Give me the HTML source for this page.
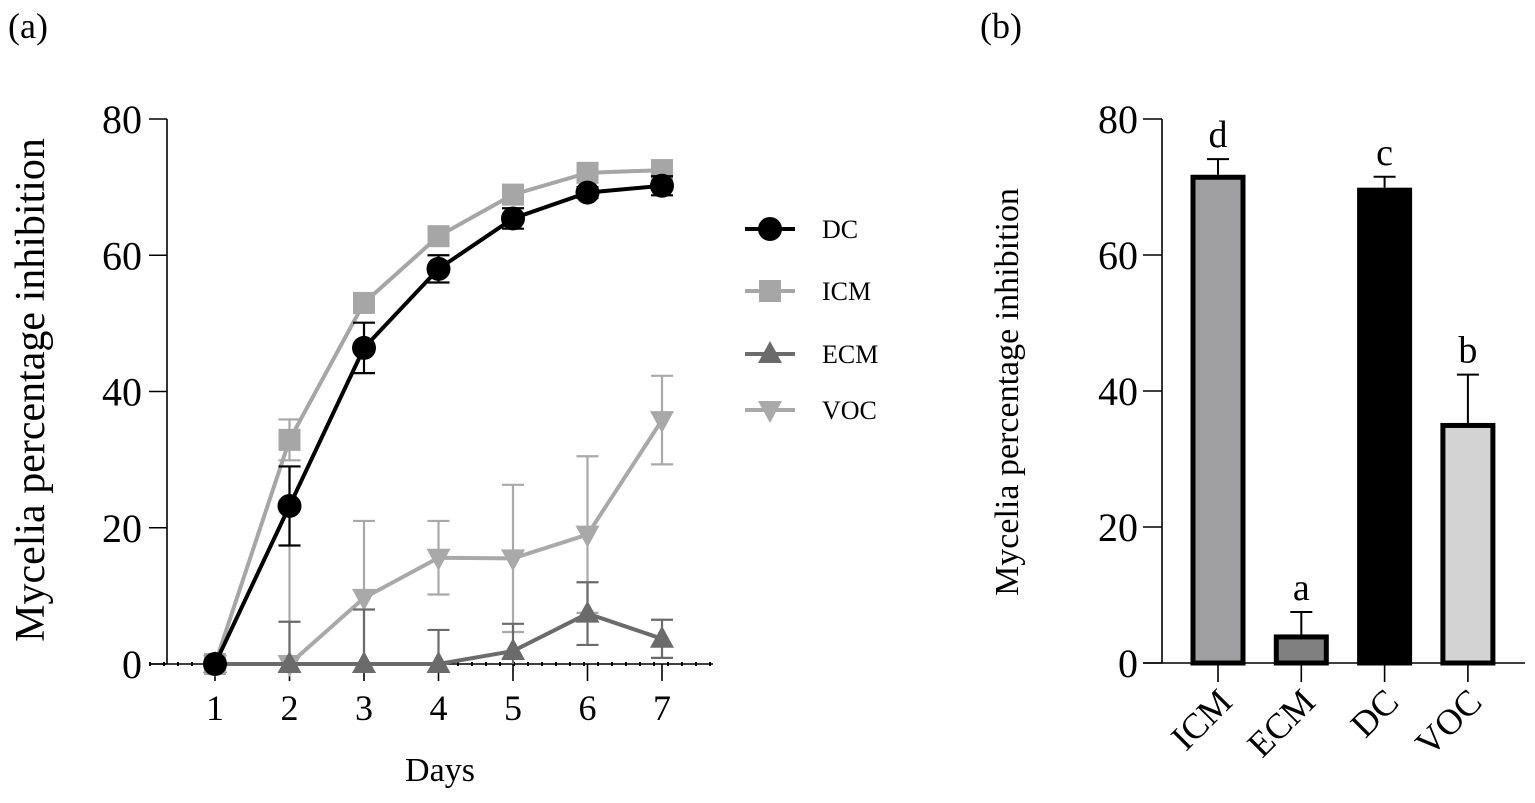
<!DOCTYPE html>
<html><head><meta charset="utf-8"><style>
html,body{margin:0;padding:0;background:#fff;overflow:hidden;}
svg{display:block;font-family:"Liberation Serif",serif;}
</style></head><body>
<svg id="c" width="1535" height="803" viewBox="0 0 1535 803" xmlns="http://www.w3.org/2000/svg">
<text x="8" y="38" font-size="36">(a)</text>
<text x="980" y="38" font-size="36">(b)</text>
<g id="left"></g>
<g id="right"></g>
</svg>
<script>
const days = [1,2,3,4,5,6,7];
const yTicks = [0,20,40,60,80];
const dcVals = [0,23.2,46.4,58,65.4,69.2,70.2];
const dcErr = [0,5.8,3.7,2,1.5,0.8,1.4];
const icmVals = [0,32.9,53,62.8,68.9,72.1,72.5];
const icmErr = [0,3,1,1,1,0.8,0.8];
const ecmVals = [0,0,0,0,1.9,7.4,3.7];
const ecmErr = [0,6.2,8,5,4,4.6,2.8];
const vocVals = [0,0,9.7,15.6,15.5,19,35.8];
const vocErr = [0,29,11.3,5.4,10.8,11.5,6.5];
const barCats = ["ICM","ECM","DC","VOC"];
const barVals = [71.8,4.2,69.9,35.3];
const barErr = [2.3,3.3,1.6,7.1];
const barLetters = ["d","a","c","b"];

const NS="http://www.w3.org/2000/svg";
function mk(parent,tag,attrs,text){const e=document.createElementNS(NS,tag);for(const k in attrs)e.setAttribute(k,attrs[k]);if(text!==undefined)e.textContent=text;parent.appendChild(e);return e;}

const L=document.getElementById('left');
const ly=v=>664-(v/80)*545;
const lx=d=>215+(d-1)*74.5;
let e;
e=mk(L,'line',{x1:167,y1:119,x2:167,y2:664,stroke:'#000','stroke-width':1.6});


e=mk(L,'line',{x1:149,y1:664,x2:713,y2:664,stroke:'#000','stroke-width':1.6});


e=mk(L,'line',{x1:149,y1:664,x2:713,y2:664,stroke:'#000','stroke-width':4,'stroke-dasharray':'2 12'});


yTicks.forEach(t=>{
  e=mk(L,'line',{x1:149,y1:ly(t),x2:167,y2:ly(t),stroke:'#000','stroke-width':1.6});
  
  
  e=mk(L,'text',{x:142,y:ly(t)+14,'font-size':40,'text-anchor':'end'},t);
  
  
});
days.forEach(d=>{
  e=mk(L,'line',{x1:lx(d),y1:664,x2:lx(d),y2:681,stroke:'#000','stroke-width':1.6});
  
  
  e=mk(L,'text',{x:lx(d),y:720,'font-size':36,'text-anchor':'middle'},d);
  
  
});
e=mk(L,'text',{x:440,y:781,'font-size':34,'text-anchor':'middle'},'Days');


e=mk(L,'text',{x:0,y:0,'font-size':42,'text-anchor':'middle',transform:'translate(44,390) rotate(-90)'},'Mycelia percentage inhibition');



function marker(g,shape,x,y,col){
  if(shape==='circle')return mk(g,'circle',{cx:x,cy:y,r:12,fill:col});
  if(shape==='square')return mk(g,'rect',{x:x-11,y:y-11,width:22,height:22,fill:col});
  if(shape==='up')return mk(g,'polygon',{points:`${x},${y-13} ${x+12},${y+9} ${x-12},${y+9}`,fill:col});
  return mk(g,'polygon',{points:`${x},${y+13} ${x+12},${y-9} ${x-12},${y-9}`,fill:col});
}
const series=[
 {name:'voc',vals:vocVals,err:vocErr,col:'#a9a9a9',shape:'down'},
 {name:'ecm',vals:ecmVals,err:ecmErr,col:'#6b6b6b',shape:'up'},
 {name:'icm',vals:icmVals,err:icmErr,col:'#a6a6a6',shape:'square'},
 {name:'dc',vals:dcVals,err:dcErr,col:'#000',shape:'circle'}
];
series.forEach(s=>{
  const g=mk(L,'g',{});
  
  
  s.vals.forEach((v,i)=>{
    if(s.err[i]<=0)return;
    const x=lx(days[i]);
    const hi=v+s.err[i], lo=v-s.err[i];
    let d=`M${x},${ly(Math.max(0,lo))}V${ly(hi)}M${x-11},${ly(hi)}h22`;
    if(lo>0.3)d+=`M${x-11},${ly(lo)}h22`;
    e=mk(g,'path',{d:d,stroke:s.col,'stroke-width':2.2,fill:'none'});
    
    
  });
  e=mk(g,'polyline',{points:s.vals.map((v,i)=>lx(days[i])+','+ly(v)).join(' '),fill:'none',stroke:s.col,'stroke-width':4});
  
  
  s.vals.forEach((v,i)=>{
    e=marker(g,s.shape,lx(days[i]),ly(v),s.col);
    
    
  });
});
const legend=[['DC','circle','#000',229],['ICM','square','#a6a6a6',291],['ECM','up','#6b6b6b',354],['VOC','down','#a9a9a9',410]];
legend.forEach(l=>{
  const g=mk(L,'g',{});
  
  
  mk(g,'line',{x1:745,y1:l[3],x2:795,y2:l[3],stroke:l[2],'stroke-width':4});
  marker(g,l[1],770,l[3],l[2]);
  e=mk(g,'text',{x:822,y:l[3]+9,'font-size':26},l[0]);
  
  
});

const R=document.getElementById('right');
const ry=v=>663-(v/80)*544;
const rx=i=>1218+i*83.3;
e=mk(R,'line',{x1:1162,y1:119,x2:1162,y2:663,stroke:'#000','stroke-width':1.6});


e=mk(R,'line',{x1:1143,y1:663,x2:1525,y2:663,stroke:'#000','stroke-width':1.6});


yTicks.forEach(t=>{
  e=mk(R,'line',{x1:1143,y1:ry(t),x2:1162,y2:ry(t),stroke:'#000','stroke-width':1.6});
  
  
  e=mk(R,'text',{x:1138,y:ry(t)+14,'font-size':40,'text-anchor':'end'},t);
  
  
});
e=mk(R,'text',{x:0,y:0,'font-size':34,'text-anchor':'middle',transform:'translate(1018,392) rotate(-90)'},'Mycelia percentage inhibition');


const fills=['#a0a0a3','#808080','#000','#d3d3d3'];
barCats.forEach((c,i)=>{
  const x=rx(i),v=barVals[i],er=barErr[i];
  e=mk(R,'path',{d:`M${x},${ry(v)}V${ry(v+er)}M${x-11},${ry(v+er)}h22`,stroke:'#000','stroke-width':2});
  
  
  e=mk(R,'rect',{x:x-25,y:ry(v)+2.5,width:50,height:663-ry(v)-2.5,fill:fills[i],stroke:'#000','stroke-width':5});
  
  
  e=mk(R,'line',{x1:x,y1:663,x2:x,y2:682,stroke:'#000','stroke-width':1.6});
  
  
  e=mk(R,'text',{x:0,y:0,'font-size':36,'text-anchor':'end',transform:`translate(${x+16},${704}) rotate(-45)`},c);
  
  
  e=mk(R,'text',{x:x,y:ry(v+er)-12,'font-size':38,'text-anchor':'middle'},barLetters[i]);
  
  
});
</script>
</body></html>
